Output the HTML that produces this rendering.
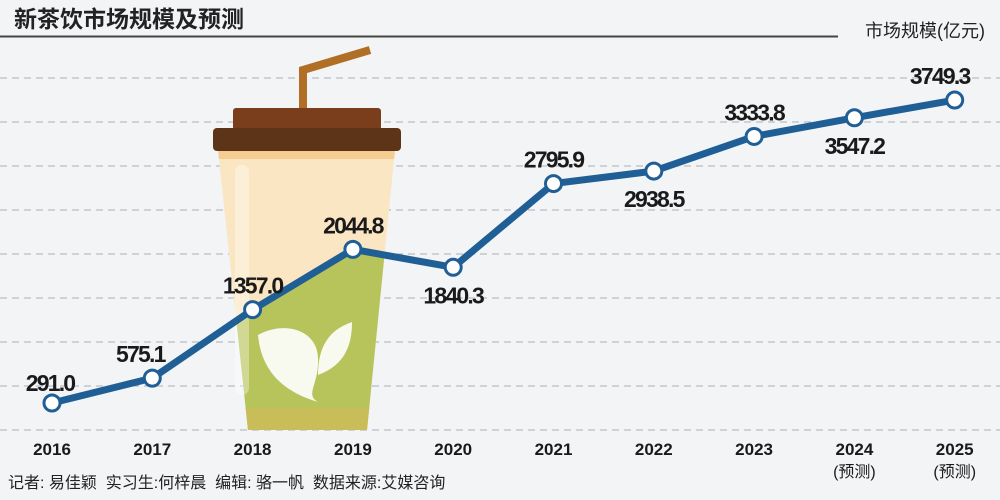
<!DOCTYPE html>
<html><head><meta charset="utf-8"><style>
body{margin:0;background:#f3f4f6;}
svg{display:block;font-family:"Liberation Sans","Noto Sans CJK SC",sans-serif;}
</style></head><body>
<svg id="chart" width="1000" height="500" viewBox="0 0 1000 500">
<rect width="1000" height="500" fill="#f3f4f6"/>
<text x="14" y="27" font-size="23" font-weight="bold" fill="#222">新茶饮市场规模及预测</text>
<line x1="0" y1="36.5" x2="838" y2="36.5" stroke="#444" stroke-width="2"/>
<text x="985" y="37" font-size="18" fill="#222" text-anchor="end">市场规模(亿元)</text>
<g id="grid"></g>
<g id="cup">
<defs><clipPath id="cupclip"><polygon points="218,150 395,150 367,430 248,430"/></clipPath></defs>
<polyline points="303,110 303,70 370,50" fill="none" stroke="#b06f25" stroke-width="8"/>
<polygon points="218,150 395,150 367,430 248,430" fill="#fae6c3"/>
<rect x="218" y="150" width="177" height="9" fill="#f5cd91" clip-path="url(#cupclip)"/>
<polygon id="greenfill" fill="#b7c45b" clip-path="url(#cupclip)"/>
<rect x="200" y="408" width="200" height="22" fill="#c8bd58" clip-path="url(#cupclip)"/>
<rect x="235" y="165" width="14" height="230" rx="7" fill="#ffffff" opacity="0.35"/>
<rect x="233" y="108" width="148" height="22" rx="3" fill="#7a3e1c"/>
<rect x="213" y="128" width="188" height="23" rx="4" fill="#5e3418"/>
<path d="M258,335 C285,320 320,330 318,362 C318,385 305,395 318,402 C295,395 262,380 258,335 Z" fill="#fff" opacity="0.9"/>
<path d="M318,375 C318,340 335,328 352,322 C352,345 345,365 318,375 Z" fill="#fff" opacity="0.9"/>
</g>
<g id="series"></g>
<g id="labels"></g>
<g id="xaxis"></g>
<text x="8" y="488" font-size="16" fill="#222" style="white-space:pre" xml:space="preserve">记者: 易佳颖  实习生:何梓晨  编辑: 骆一帆  数据来源:艾媒咨询</text>
</svg>
<script>
const years = ["2016","2017","2018","2019","2020","2021","2022","2023","2024","2025"];
const subLabels = ["","","","","","","","","(预测)","(预测)"];
const values = [291.0,575.1,1357.0,2044.8,1840.3,2795.9,2938.5,3333.8,3547.2,3749.3];
const valueLabels = ["291.0","575.1","1357.0","2044.8","1840.3","2795.9","2938.5","3333.8","3547.2","3749.3"];
const labelBelow = [false,false,false,false,true,false,true,false,true,false];
const NS="http://www.w3.org/2000/svg";
function xs(i){return 52+i*100.3;}
function ys(v){return 428.5-v*0.0876;}
function mk(tag,attrs,parent){const e=document.createElementNS(NS,tag);for(const k in attrs)e.setAttribute(k,attrs[k]);parent.appendChild(e);return e;}
const grid=document.getElementById('grid');
for(let k=0;k<9;k++){const y=78+k*44;
 const l=mk('line',{x1:0,x2:1000,y1:y,y2:y,stroke:'#aab0b8','stroke-width':1,'stroke-dasharray':'7,5'},grid);
 
 }
const pts=values.map((v,i)=>xs(i)+','+ys(v)).join(' ');
document.getElementById('greenfill').setAttribute('points',pts+' '+xs(9)+',440 '+xs(0)+',440');
const series=document.getElementById('series');
const pl=mk('polyline',{points:pts,fill:'none',stroke:'#1f5f96','stroke-width':7,'stroke-linejoin':'round'},series);


const lab=document.getElementById('labels');
values.forEach((v,i)=>{
 const c=mk('circle',{cx:xs(i),cy:ys(v),r:8,fill:'#fff',stroke:'#1f5f96','stroke-width':3},series);
 
 
 let lx=xs(i), ly=labelBelow[i]?ys(v)+36:ys(v)-16;
 if(i===0){lx-=2;ly=ys(v)-12;}
 if(i===1){lx-=12;}
 if(i===9){lx-=15;}
 const t=mk('text',{x:lx,y:ly,'font-size':23,'font-weight':'bold',fill:'#1a1a1a','text-anchor':'middle','letter-spacing':'-1.8'},lab);
 t.textContent=valueLabels[i];
 
 
});
const xa=document.getElementById('xaxis');
years.forEach((y,i)=>{
 const t=mk('text',{x:xs(i),y:455,'font-size':17,'font-weight':'bold',fill:'#1a1a1a','text-anchor':'middle'},xa);
 t.textContent=y;
 
 
 if(subLabels[i]){const s=mk('text',{x:xs(i),y:477,'font-size':16,fill:'#1a1a1a','text-anchor':'middle'},xa);
 s.textContent=subLabels[i];
 
 }
});
</script>
</body></html>
